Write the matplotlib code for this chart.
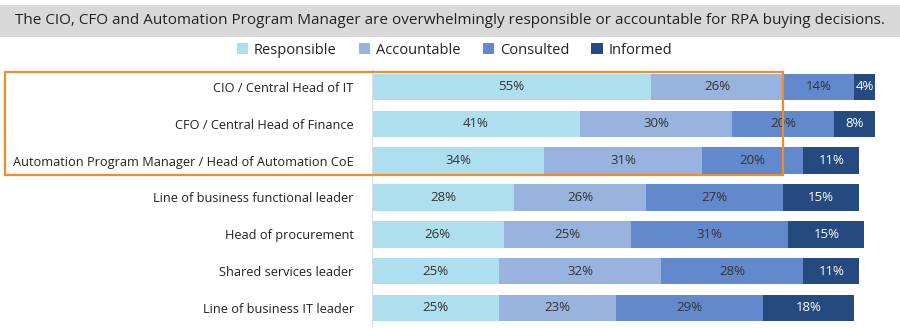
import matplotlib
matplotlib.use('Agg')
import matplotlib.pyplot as plt
from matplotlib.patches import Rectangle

plt.rcParams['font.family'] = ['Open Sans', 'DejaVu Sans']

roles = ['CIO / Central Head of IT',
         'CFO / Central Head of Finance',
         'Automation Program Manager / Head of Automation CoE',
         'Line of business functional leader',
         'Head of procurement',
         'Shared services leader',
         'Line of business IT leader']
responsible = [55, 41, 34, 28, 26, 25, 25]
accountable = [26, 30, 31, 26, 25, 32, 23]
consulted = [14, 20, 20, 27, 31, 28, 29]
informed = [4, 8, 11, 15, 15, 11, 18]

series = ['Responsible', 'Accountable', 'Consulted', 'Informed']
colors = ['#ADDFEE', '#97B3DE', '#6189CC', '#244A80']
txtcol = ['#333333', '#333333', '#333333', 'white']

fig = plt.figure(figsize=(9, 3.28), dpi=100)
ax = fig.add_axes([0.413, 0.005, 0.587, 0.786])

y = list(range(len(roles)))
left = [0] * len(roles)
for name, vals, c, tc in zip(series, [responsible, accountable, consulted, informed], colors, txtcol):
    ax.barh(y, vals, left=left, height=0.72, color=c, label=name)
    for yi, l, v in zip(y, left, vals):
        ax.text(l + v / 2, yi, f'{v}%', ha='center', va='center', fontsize=9.5, color=tc)
    left = [a + b for a, b in zip(left, vals)]

ax.set_xlim(0, 104)
ax.set_ylim(6.5, -0.5)
ax.set_xticks([])
ax.set_yticks(y)
ax.set_yticklabels(roles, fontsize=9.2, color='#222222')
ax.tick_params(axis='y', length=0, pad=13)
for s in ['top', 'right', 'bottom']:
    ax.spines[s].set_visible(False)
ax.spines['left'].set_color('#dddddd')

# title banner
fig.patches.append(Rectangle((0, 1 - 37 / 328), 1, 32 / 328, transform=fig.transFigure,
                             facecolor='#d9d9d9', edgecolor='none'))
fig.text(0.5, 1 - 21 / 328, 'The CIO, CFO and Automation Program Manager are overwhelmingly responsible or accountable for RPA buying decisions.',
         ha='center', va='center', fontsize=11, color='#222222')

fig.legend(loc='center', bbox_to_anchor=(0.505, 1 - 50 / 328), ncol=4, frameon=False,
           fontsize=10.5, handlelength=0.8, handleheight=0.8, handletextpad=0.4,
           columnspacing=1.5, labelcolor='#222222')

# highlight box
fig.patches.append(Rectangle((5 / 900, 1 - 175 / 328), 778 / 900, 103 / 328, transform=fig.transFigure,
                             facecolor='none', edgecolor='#F28C28', linewidth=1.6, zorder=10))

plt.savefig('out.png')
